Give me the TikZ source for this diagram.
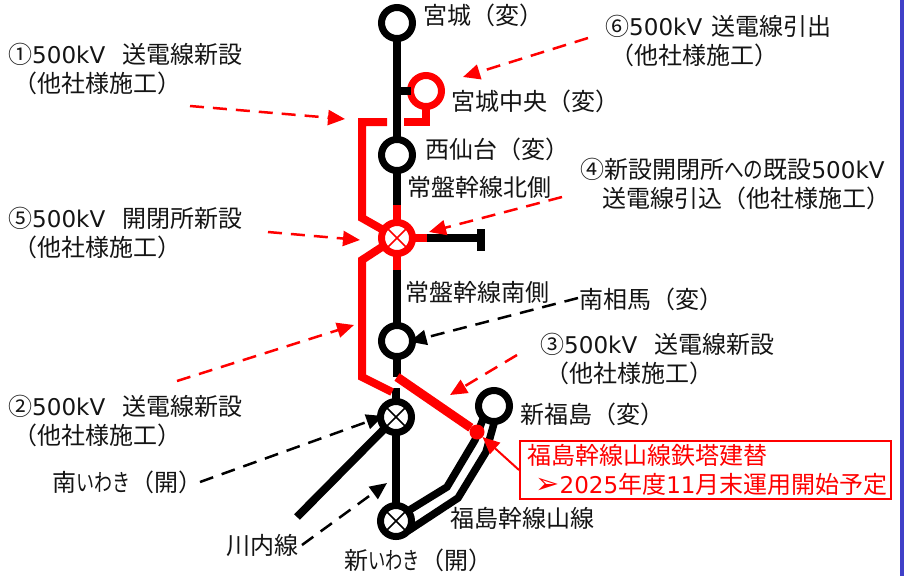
\documentclass[tikz,border=0pt]{standalone}
\usepackage{fontspec}
\setmainfont{Noto Sans CJK JP}
\newfontfamily\latfont[Scale=0.96]{DejaVu Sans}
\newcommand{\lat}[1]{{\latfont #1}}
\newcommand{\narrow}[2]{\scalebox{#1}[1]{#2}}
\usetikzlibrary{arrows.meta}
\definecolor{edgeblue}{RGB}{64,64,200}
\tikzset{
    station/.style={circle,draw=black,fill=white,line width=7pt,minimum size=31pt,inner sep=0pt,outer sep=0pt},
    redstation/.style={station,draw=red},
    wire/.style={line width=8pt,draw=black},
    redwire/.style={wire,draw=red},
    xmark/.style={line width=1.6pt},
    lbl/.style={anchor=west,inner sep=0pt,align=left,text=black!92,font=\fontsize{24}{29}\selectfont},
    blkcall/.style={line width=2.5pt,dash pattern=on 14pt off 9pt,-{Triangle[length=17pt,width=15pt]},black},
    redcall/.style={blkcall,red},
}
\begin{document}
\begin{tikzpicture}[x=1pt,y=-1pt]
    \useasboundingbox (0,0) rectangle (904,576);
    \fill[edgeblue] (900,0) rectangle (904,576);
    % stations
    \node[station] (miyagi) at (397,23) {};
    \node[redstation] (mchuo) at (426,91) {};
    \node[station] (nishi) at (397,155) {};
    \node[redstation] (kaihei) at (397,238) {};
    \node[station] (soma) at (397,341) {};
    \node[station] (swaki) at (396,417) {};
    \node[station] (nwaki) at (396,521) {};
    \node[station] (fuku) at (494,406) {};
    \foreach \n/\c in {kaihei/red,swaki/black,nwaki/black} {
      \draw[xmark,color=\c] (\n.45) -- (\n.225);
      \draw[xmark,color=\c] (\n.135) -- (\n.315);
    }
    % black lines
    \coordinate (kita) at (397,205);
    \coordinate (minami) at (397,270);
    \coordinate (stubu) at (397,377);
    \coordinate (stubl) at (396,388);
    \coordinate (branch) at (397,91);
    \coordinate (bstart) at (427,238);
    \coordinate (bend) at (481,238);
    \coordinate (bartop) at (481,229);
    \coordinate (barbot) at (481,251);
    \coordinate (sendai) at (297,517);
    \draw[wire] (miyagi) -- (nishi);
    \draw[wire] (nishi) -- (kita);
    \draw[wire] (branch) -- (mchuo);
    \draw[wire] (minami) -- (soma);
    \draw[wire] (soma) -- (stubu);
    \draw[wire] (stubl) -- (swaki);
    \draw[wire] (swaki) -- (nwaki);
    \draw[wire] (bstart) -- (bend);
    \draw[wire] (bartop) -- (barbot);
    \draw[wire] (swaki) -- (sendai);
    \draw[wire,line width=7.5pt,miter limit=4] (fuku.228) -- (475,440) -- (447,487) -- (nwaki.40);
    \draw[wire,line width=7.5pt,miter limit=4] (fuku.272) -- (486,452) -- (458,498) -- (nwaki.-40);
    % red lines
    \node[circle,fill=red,minimum size=15pt,inner sep=0pt,outer sep=0pt] (tower) at (477,432) {};
    \coordinate (gapr) at (404,122);
    \coordinate (gapl) at (387,122);
    \coordinate (north) at (385,231);
    \coordinate (south) at (385,245);
    \coordinate (nearsw) at (392,392);
    \draw[redwire] (mchuo) -- (426,122) -- (gapr);
    \draw[redwire] (gapl) -- (362,122) -- (362,218) -- (north);
    \draw[redwire] (south) -- (362,260) -- (362,377) -- (nearsw);
    \draw[redwire] (kita) -- (kaihei);
    \draw[redwire] (kaihei) -- (minami);
    \draw[redwire] (kaihei) -- (bstart);
    \draw[redwire,line width=9pt] (stubu) -- (tower);
    % labels
    \node[lbl] (lmiyagi) at (423,15) {宮城（変）};
    \node[lbl] (lmchuo) at (451,101) {宮城中央（変）};
    \node[lbl] (lnishi) at (425,149) {西仙台（変）};
    \node[lbl] (lkita) at (407,187) {常盤幹線北側};
    \node[lbl] (lminami) at (405,292) {常盤幹線南側};
    \node[lbl] (lsoma) at (579,299) {南相馬（変）};
    \node[lbl] (lfuku) at (520,414) {新福島（変）};
    \node[lbl] (lyama) at (450,518) {福島幹線山線};
    \node[lbl] (lnwaki) at (344,560) {新\narrow{0.72}{いわき}（開）};
    \node[lbl] (lswaki) at (52,482) {南\narrow{0.75}{いわき}（開）};
    \node[lbl] (lsendai) at (226,545) {川内線};
    \node[lbl] (one) at (8,69) {①\lat{500kV}\hspace{17pt}送電線新設\\\hspace{5pt}（他社様施工）};
    \node[lbl] (two) at (8,421) {②\lat{500kV}\hspace{17pt}送電線新設\\\hspace{5pt}（他社様施工）};
    \node[lbl] (three) at (540,359) {③\lat{500kV}\hspace{17pt}送電線新設\\\hspace{5pt}（他社様施工）};
    \node[lbl] (four) at (580,184) {④新設開閉所\narrow{0.82}{への}既設\lat{500kV}\\\hspace{22pt}送電線引込（他社様施工）};
    \node[lbl] (five) at (8,233) {⑤\lat{500kV}\hspace{17pt}開閉所新設\\\hspace{5pt}（他社様施工）};
    \node[lbl] (six) at (605,41) {⑥\lat{500kV}\hspace{9pt}送電線引出\\\hspace{5pt}（他社様施工）};
    % box
    \node[draw=red,line width=2pt,text=red,anchor=north west,inner sep=0pt,minimum width=371pt,minimum height=58pt,align=left,
      text width=356pt,font=\fontsize{24}{29}\selectfont] (note) at (519,440)
      {福島幹線山線鉄塔建替\\\hspace{8pt}{\latfont\fontsize{30}{29}\selectfont ➢}\lat{2025}年度\lat{11}月末運用開始予定};
    \draw[red,line width=2pt,-{Triangle[length=17pt,width=15pt]}] (note.west) -- (tower);
    % call-outs
    \coordinate (onea) at (190,106);
    \coordinate (oneb) at (345,119);
    \coordinate (sixa) at (588,38);
    \coordinate (sixb) at (463,77);
    \coordinate (foura) at (562,197);
    \coordinate (fourb) at (429,232);
    \coordinate (fivea) at (268,232);
    \coordinate (fiveb) at (360,240);
    \coordinate (twoa) at (177,381);
    \coordinate (twob) at (354,325);
    \coordinate (threea) at (517,355);
    \coordinate (threeb) at (450,395);
    \foreach \a/\b in {onea/oneb,sixa/sixb,foura/fourb,fivea/fiveb,twoa/twob,threea/threeb} {
      \draw[redcall] (\a) -- (\b);
    }
    \coordinate (somaa) at (578,298);
    \coordinate (swakia) at (200,482);
    \coordinate (nwakia) at (302,545);
    \coordinate (nwakib) at (387,483);
    \draw[blkcall,shorten >=-3pt] (somaa) -- (soma.east);
    \draw[blkcall,shorten >=-3pt] (swakia) -- (swaki.west);
    \draw[blkcall] (nwakia) -- (nwakib);
\end{tikzpicture}
\end{document}
